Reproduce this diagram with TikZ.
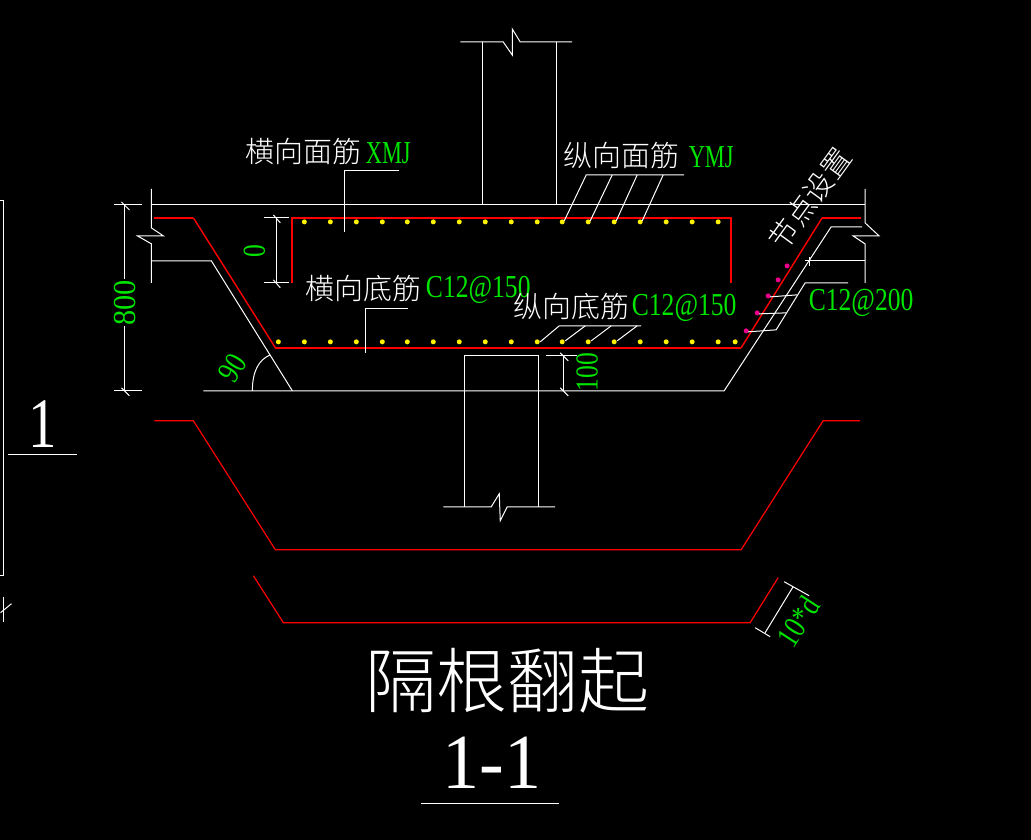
\documentclass[tikz,border=0pt]{standalone}
\usepackage{fontspec}
\newfontfamily\cjk[UprightFont=* Light]{Noto Sans CJK SC}
\newfontfamily\cad[FakeStretch=0.8]{Liberation Serif}
\newfontfamily\cadn[FakeStretch=0.7]{Liberation Serif}
\newfontfamily\cadbig[FakeStretch=0.95]{Liberation Serif}
\tikzset{
    wline/.style={draw=white,line width=1pt},
    rbar/.style={draw=red,line width=2pt},
    rthin/.style={draw=red,line width=1.4pt},
    lab/.style={text=white,inner sep=0pt,font=\fontsize{29}{29}\selectfont\cjk},
    gtxt/.style={text=green!90!black,inner sep=0pt,font=\fontsize{32}{32}\selectfont\cad},
    gnar/.style={gtxt,font=\fontsize{32}{32}\selectfont\cadn},
    gwid/.style={gtxt,font=\fontsize{32}{32}\selectfont\cadbig},
    big/.style={text=white,inner sep=0pt,font=\fontsize{71}{71}\selectfont\cad},
    ydot/.style={fill=yellow},
    mdot/.style={fill=magenta}
}
\begin{document}
\begin{tikzpicture}[x=1pt,y=-1pt]
    \fill[black] (0,0) rectangle (1031,840);
    % column above and below
    \draw[wline] (460,42)--(503,42)--(512,55)--(512,29)--(520,42)--(572,42);
    \draw[wline] (482,42)--(482,205);
    \draw[wline] (556,42)--(556,205);
    \draw[wline] (464,391)--(464,356)--(538,356)--(538,391);
    \draw[wline] (464,391)--(464,507);
    \draw[wline] (538,391)--(538,507);
    \draw[wline] (443,507)--(491,507)--(499,494)--(500,521)--(507,507)--(555,507);
    % slab outline
    \draw[wline] (151,205)--(865,205);
    \draw[wline] (151,189)--(151,228)--(163,236)--(137,236)--(151,244)--(151,283);
    \draw[wline] (865,189)--(865,223)--(879,236)--(853,236)--(865,244)--(865,283);
    \draw[wline] (151,261)--(211,261)--(292,391);
    \draw[wline] (203,391)--(724,391)--(831,227)--(862,227);
    \draw[wline] (805,261)--(865,261);
    \draw[wline] (809,257)--(809,266);
    % bars
    \draw[rbar] (154,218)--(193,218);
    \draw[rthin] (193,218)--(275,348);
    \draw[rbar] (275,348)--(741,348);
    \draw[rthin] (741,348)--(822,218);
    \draw[rbar] (822,218)--(861,218);
    \draw[rbar] (292,283)--(292,218)--(731,218)--(731,283);
    \draw[draw=red,line width=1.2pt] (154,421)--(193,421)--(275,550)--(741,550)--(823,421)--(860,421);
    \draw[draw=red,line width=1.2pt] (253,576)--(283,623)--(750,623)--(778,578);
    % dots
    \fill[ydot] (304,222) circle (2.5) (330,222) circle (2.5) (356,222) circle (2.5) (382,222) circle (2.5) (407,222) circle (2.5) (433,222) circle (2.5);
    \fill[ydot] (459,222) circle (2.5) (485,222) circle (2.5) (511,222) circle (2.5) (537,222) circle (2.5) (562,222) circle (2.5) (588,222) circle (2.5);
    \fill[ydot] (614,222) circle (2.5) (640,222) circle (2.5) (666,222) circle (2.5) (692,222) circle (2.5) (718,222) circle (2.5);
    \fill[ydot] (278,342) circle (2.5) (304,342) circle (2.5) (330,342) circle (2.5) (356,342) circle (2.5) (382,342) circle (2.5) (407,342) circle (2.5) (433,342) circle (2.5);
    \fill[ydot] (459,342) circle (2.5) (485,342) circle (2.5) (511,342) circle (2.5) (537,342) circle (2.5) (562,342) circle (2.5) (588,342) circle (2.5);
    \fill[ydot] (614,342) circle (2.5) (640,342) circle (2.5) (666,342) circle (2.5) (692,342) circle (2.5) (718,342) circle (2.5) (735,342) circle (2.5);
    \fill[mdot] (787,266) circle (2.5) (778,280) circle (2.5) (768,296) circle (2.5) (757,313) circle (2.5) (746,331) circle (2.5);
    % leaders
    \draw[wline] (399,171)--(344,171)--(344,232);
    \draw[wline] (408,309)--(365,309)--(365,353);
    \draw[wline] (684,175)--(586,175)--(564,221);
    \draw[wline] (612,175)--(590,221);
    \draw[wline] (637,175)--(616,221);
    \draw[wline] (663,175)--(642,221);
    \draw[wline] (641,326)--(559,326)--(540,342);
    \draw[wline] (585,326)--(565,341);
    \draw[wline] (611,326)--(591,341);
    \draw[wline] (637,326)--(617,341);
    \draw[wline] (848,283)--(805,283)--(776,330)--(748,332);
    \draw[wline] (770,297)--(797,295);
    \draw[wline] (759,314)--(786,313);
    % dimensions
    \draw[wline] (114,205)--(142,205);
    \draw[wline] (114,391)--(142,391);
    \draw[wline] (124,205)--(124,279);
    \draw[wline] (124,326)--(124,391);
    \draw[wline] (121,202)--(129,210);
    \draw[wline] (121,388)--(129,396);
    \draw[wline] (264,218)--(289,218);
    \draw[wline] (264,283)--(289,283);
    \draw[wline] (276,218)--(276,283);
    \draw[wline] (273,215)--(280,223);
    \draw[wline] (273,280)--(280,288);
    \draw[wline] (546,356)--(577,356);
    \draw[wline] (563,356)--(563,391);
    \draw[wline] (560,353)--(568,361);
    \draw[wline] (560,388)--(568,396);
    \draw[wline] (252,391) .. controls (252,372) and (258,360) .. (270,355);
    \draw[wline] (765,633)--(793,587);
    \draw[wline] (755,628)--(770,637);
    \draw[wline] (784,582)--(809,596);
    % section mark at the left
    \draw[wline] (0,201)--(3,201)--(3,576)--(0,576);
    \draw[wline] (3,597)--(3,622);
    \draw[wline] (0,613)--(11,604);
    \draw[wline] (8,455)--(77,455);
    \draw[wline] (421,804)--(559,804);
    % texts
    \node[lab] (hmj) at (303,152) {横向面筋};
    \node[gnar] (xmj) at (388,153) {XMJ};
    \node[lab] (zmj) at (621,156) {纵向面筋};
    \node[gnar] (ymj) at (711,157) {YMJ};
    \node[lab] (hdj) at (363,289) {横向底筋};
    \node[gtxt] (hdv) at (478,290) {C12@150};
    \node[lab] (zdj) at (571,307) {纵向底筋};
    \node[gtxt] (zdv) at (684,308) {C12@150};
    \node[gtxt] (cjv) at (861,303) {C12@200};
    \node[lab,rotate=54] (jdsz) at (810,199) {节点设置};
    \node[gwid,rotate=90] (d800) at (125,303) {800};
    \node[gtxt,rotate=90] (d0) at (254,251) {0};
    \node[gtxt,rotate=90] (d100) at (587,372) {100};
    \node[gtxt,rotate=58] (a90) at (232,368) {90};
    \node[gtxt,rotate=57] (d10) at (798,622) {10*d};
    \node[big] (sec) at (42,424) {1};
    \node[lab,font=\fontsize{71}{71}\selectfont\cjk] (title) at (507,681) {隔根翻起};
    \node[big,font=\fontsize{78}{78}\selectfont\cadbig] (titlenum) at (492,763) {1-1};
\end{tikzpicture}
\end{document}
